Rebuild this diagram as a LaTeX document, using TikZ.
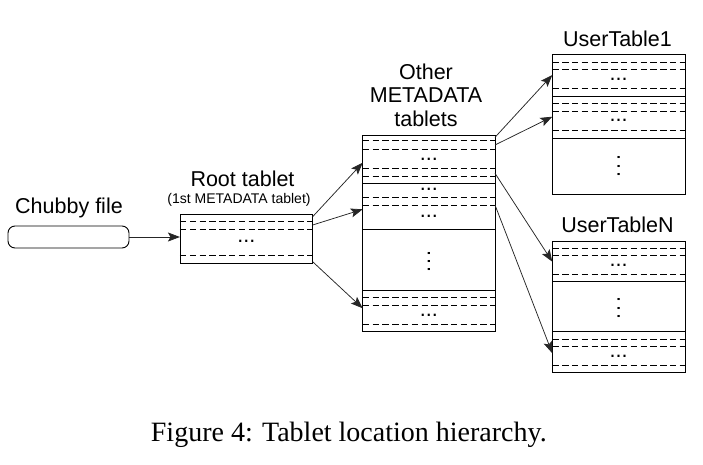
\documentclass[tikz,border=0pt]{standalone}
\usepackage{fontspec}
\setmainfont{Liberation Serif}
\newfontfamily\sansf{Liberation Sans}
\usetikzlibrary{arrows.meta}
\newcommand{\vdotsx}{.\kern2.3pt.\kern2.3pt.}
\newcommand{\trow}[3]{\draw[#3] (#1.west |- 0,#2) -- (#1.east |- 0,#2);}
\tikzset{
  tbox/.style={draw, line width=0.9pt, inner sep=0pt, outer sep=0pt},
  dsh/.style={line width=0.9pt, dash pattern=on 6.5pt off 3.3pt},
  sol/.style={line width=0.9pt},
  lbl/.style={font=\sansf\fontsize{21.5}{23.7}\selectfont, inner sep=0pt, anchor=base},
  dts/.style={font=\sansf\fontsize{21.5}{24}\selectfont, inner sep=0pt, anchor=base},
  vdt/.style={font=\sansf\fontsize{21.5}{24}\selectfont, inner sep=0pt, anchor=center, rotate=90},
  arr/.style={draw=black!85, line width=0.75pt, -{Stealth[length=12pt,width=9pt,inset=2.5pt]}},
}
\begin{document}
\begin{tikzpicture}[x=1pt,y=-1pt]
\useasboundingbox (0,0) rectangle (703,465);

% Chubby file
\node[lbl] (chubbylbl) at (69,213.3) {Chubby file};
\node[draw, line width=0.9pt, rounded corners=7pt, minimum width=121pt, minimum height=22pt, inner sep=0pt, outer sep=0pt] (chubby) at (68.5,237) {};

% Root tablet
\node[tbox, minimum width=132.7pt, minimum height=48.7pt] (root) at (246.3,238.65) {};
\node[lbl] (rootlbl) at (242.5,186.7) {Root tablet};
\node[font=\sansf\fontsize{14}{16}\selectfont, inner sep=0pt, anchor=base] (rootsub) at (239,203) {(1st METADATA tablet)};
\trow{root}{221}{dsh}
\trow{root}{229}{dsh}
\trow{root}{255.7}{dsh}
\node[dts] (rd1) at (246.3,242.7) {...};

% Other METADATA tablets
\node[tbox, minimum width=132.3pt, minimum height=196.7pt] (meta) at (428.85,233.35) {};
\node[lbl, align=center] (metalbl) at (426,126.7) {Other\\METADATA\\tablets};
\trow{meta}{140.7}{dsh}
\trow{meta}{149}{dsh}
\trow{meta}{168.3}{dsh}
\trow{meta}{176}{dsh}
\trow{meta}{183.3}{sol}
\trow{meta}{197.7}{dsh}
\trow{meta}{205.7}{dsh}
\trow{meta}{229.3}{sol}
\trow{meta}{290}{sol}
\trow{meta}{297.3}{dsh}
\trow{meta}{305}{dsh}
\trow{meta}{324.3}{dsh}
\node[dts] (md1) at (428.85,160.3) {...};
\node[dts] (md2) at (428.85,190.3) {...};
\node[dts] (md3) at (428.85,217) {...};
\node[dts] (md4) at (428.85,316.7) {...};
\node[vdt] (mv) at (428.85,261.7) {\vdotsx};

% UserTable1
\node[tbox, minimum width=132.7pt, minimum height=139.7pt] (ut1) at (618.65,124.15) {};
\node[lbl] (ut1lbl) at (617.5,46.7) {UserTable1};
\trow{ut1}{62.3}{dsh}
\trow{ut1}{69.3}{dsh}
\trow{ut1}{88.3}{dsh}
\trow{ut1}{96.7}{sol}
\trow{ut1}{103.3}{dsh}
\trow{ut1}{111}{dsh}
\trow{ut1}{130}{dsh}
\trow{ut1}{138.3}{sol}
\node[dts] (u1d1) at (618.65,80.3) {...};
\node[dts] (u1d2) at (618.65,122) {...};
\node[vdt] (u1v) at (618.65,166) {\vdotsx};

% UserTableN
\node[tbox, minimum width=132.7pt, minimum height=131.7pt] (utn) at (618.65,306.85) {};
\node[lbl] (utnlbl) at (617.5,232.3) {UserTableN};
\trow{utn}{248.3}{dsh}
\trow{utn}{255}{dsh}
\trow{utn}{274}{dsh}
\trow{utn}{281.7}{sol}
\trow{utn}{331.7}{sol}
\trow{utn}{339.3}{dsh}
\trow{utn}{346.7}{dsh}
\trow{utn}{365.7}{dsh}
\node[dts] (und1) at (618.65,266) {...};
\node[dts] (und2) at (618.65,357) {...};
\node[vdt] (unv) at (618.65,308) {\vdotsx};

% connector end points
\coordinate (r1) at (root.east |- 0,216.7);
\coordinate (r2) at (root.east |- 0,225);
\coordinate (r3) at (root.east |- 0,261.7);
\coordinate (m1) at (meta.west |- 0,162.7);
\coordinate (m2) at (meta.west |- 0,209.3);
\coordinate (m3) at (meta.west |- 0,308.3);
\coordinate (ms1) at (meta.east |- 0,137.3);
\coordinate (ms2) at (meta.east |- 0,145);
\coordinate (ms3) at (meta.east |- 0,173.3);
\coordinate (ms4) at (meta.east |- 0,205);
\coordinate (u1a) at (ut1.west |- 0,75);
\coordinate (u1b) at (ut1.west |- 0,116.7);
\coordinate (una) at (utn.west |- 0,261.7);
\coordinate (unb) at (utn.west |- 0,353.3);

\draw[arr] (chubby.east) -- (root.west |- chubby.east);
\draw[arr] (r1) -- (m1);
\draw[arr] (r2) -- (m2);
\draw[arr] (r3) -- (m3);
\draw[arr] (ms1) -- (u1a);
\draw[arr] (ms2) -- (u1b);
\draw[arr] (ms3) -- (una);
\draw[arr] (ms4) -- (unb);

% caption
\node[font=\fontsize{28}{32}\selectfont, inner sep=0pt, anchor=base west] (cap) at (150.7,441) {Figure 4: Tablet location hierarchy.};
\end{tikzpicture}
\end{document}
